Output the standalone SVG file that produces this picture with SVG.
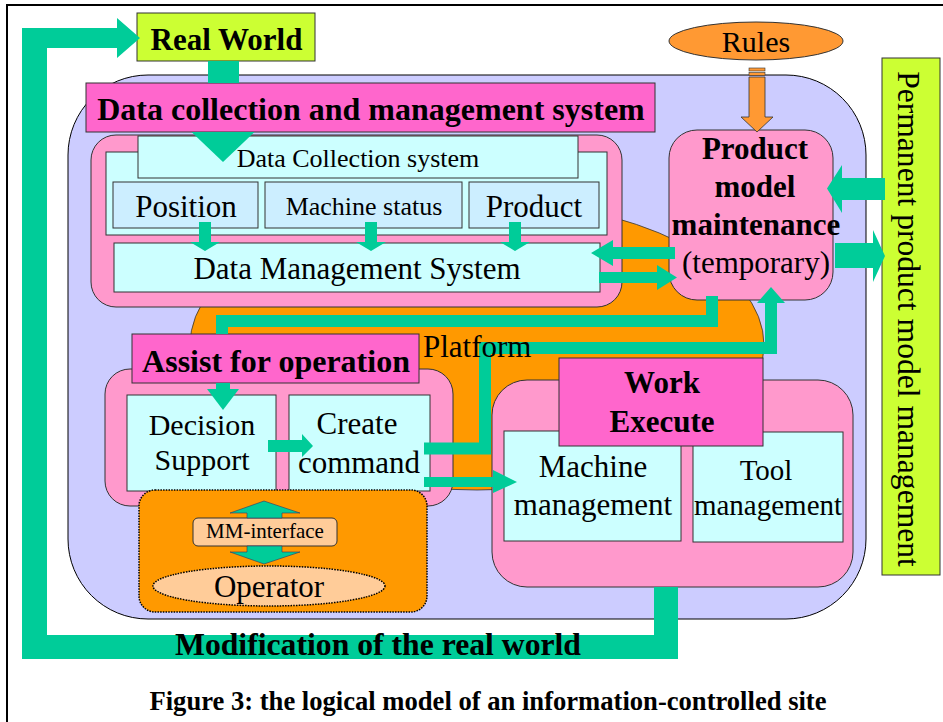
<svg xmlns="http://www.w3.org/2000/svg" width="943" height="722" viewBox="0 0 943 722">
  <style>
    text { font-family: "Liberation Serif", "Times New Roman", serif; fill: #000; }
    .b { font-weight: bold; }
    .m { text-anchor: middle; }
    .ln { stroke: #333; stroke-width: 1; }
    .grn { fill: #00cc99; }
    .gline { fill: none; stroke: #00cc99; stroke-width: 12; stroke-linejoin: miter; stroke-linecap: butt; }
    .pink { fill: #ff99cc; }
    .mag { fill: #ff66cc; }
    .cyan { fill: #ccffff; }
    .blue { fill: #cceeff; }
    .lime { fill: #ccff33; }
    .dots { stroke: #000; stroke-width: 1.5; stroke-dasharray: 1.5 1.2; }
  </style>

  <!-- page frame -->
  <path d="M7,722 V5 H943" fill="none" stroke="#000" stroke-width="2"/>

  <!-- site container -->
  <g id="site">
    <rect x="68" y="75" width="798" height="544" rx="80" fill="#ccccff" stroke="#000" stroke-width="1"/>
  </g>

  <!-- platform -->
  <g id="platform">
    <ellipse cx="477" cy="345" rx="287" ry="145" fill="#ff9900" stroke="#333" stroke-width="0.8"/>
  </g>

  <!-- data collection and management -->
  <g id="data-system">
    <rect class="pink ln" x="91" y="135" width="531" height="172" rx="25"/>
    <rect class="cyan ln" x="106" y="152" width="501" height="83"/>
    <g id="data-collection">
      <rect class="cyan ln" x="138" y="136" width="440" height="42"/>
      <text class="m" x="358" y="167" font-size="26">Data Collection system</text>
    </g>
    <g id="position">
      <rect class="blue ln" x="113" y="182" width="145" height="46"/>
      <text class="m" x="186" y="217" font-size="31">Position</text>
    </g>
    <g id="machine-status">
      <rect class="blue ln" x="265" y="182" width="197" height="46"/>
      <text class="m" x="364" y="215" font-size="26">Machine status</text>
    </g>
    <g id="product">
      <rect class="blue ln" x="469" y="182" width="130" height="46"/>
      <text class="m" x="534" y="217" font-size="31">Product</text>
    </g>
    <g id="data-management">
      <rect class="cyan ln" x="114" y="243" width="486" height="49"/>
      <text class="m" x="357" y="279" font-size="31">Data Management System</text>
    </g>
    <g id="data-header">
      <rect class="mag ln" x="86" y="83" width="569" height="49"/>
      <text class="m b" x="371" y="120" font-size="32">Data collection and management system</text>
    </g>
  </g>

  <g id="real-world">
    <rect class="lime ln" x="137" y="13" width="178" height="48"/>
    <text class="m b" x="226.5" y="50" font-size="31">Real World</text>
  </g>

  <g id="rules">
    <ellipse cx="756" cy="41" rx="87" ry="19" fill="#ff9933" stroke="#333" stroke-width="1"/>
    <text class="m" x="756" y="52" font-size="30">Rules</text>
  </g>

  <g id="product-model">
    <rect class="pink ln" x="669" y="130" width="164" height="170" rx="28"/>
    <text class="m b" x="755" y="159" font-size="31">Product</text>
    <text class="m b" x="755" y="197" font-size="31">model</text>
    <text class="m b" x="756" y="235" font-size="31">maintenance</text>
    <text class="m" x="756" y="273" font-size="31">(temporary)</text>
  </g>

  <g id="permanent-model">
    <rect class="lime ln" x="882" y="58" width="58" height="517"/>
    <text class="m" transform="translate(898,319) rotate(90)" font-size="31.6">Permanent product model management</text>
  </g>

  <g id="assist">
    <rect class="pink ln" x="105" y="369" width="348" height="137" rx="25"/>
    <g id="decision-support">
      <rect class="cyan ln" x="127" y="395" width="149" height="96"/>
      <text class="m" x="202" y="435" font-size="30">Decision</text>
      <text class="m" x="202" y="470" font-size="30">Support</text>
    </g>
    <g id="create-command">
      <rect class="cyan ln" x="289" y="395" width="141" height="96"/>
      <text class="m" x="357" y="434" font-size="31">Create</text>
      <text class="m" x="359" y="473" font-size="31">command</text>
    </g>
    <g id="assist-header">
      <rect class="mag ln" x="132" y="334" width="287" height="49"/>
      <text class="m b" x="276" y="372" font-size="32">Assist for operation</text>
    </g>
  </g>

  <g id="mm-interface">
    <rect x="139" y="490" width="288" height="122" rx="16" fill="#ff9900" class="dots"/>
    <g id="mm-label">
      <rect x="193" y="518" width="144" height="28" rx="5" fill="#ffcc99" stroke="#333" stroke-width="1"/>
      <text class="m" x="265" y="538" font-size="21">MM-interface</text>
    </g>
    <g id="operator">
      <ellipse cx="269" cy="586" rx="116" ry="20" fill="#ffcc99" class="dots"/>
      <text class="m" x="269" y="597" font-size="31">Operator</text>
    </g>
  </g>

  <g id="work">
    <rect class="pink ln" x="492" y="380" width="361" height="207" rx="35"/>
    <g id="machine-management">
      <rect class="cyan ln" x="504" y="431" width="177" height="110"/>
      <text class="m" x="593" y="477" font-size="31">Machine</text>
      <text class="m" x="593" y="515" font-size="31">management</text>
    </g>
    <g id="tool-management">
      <rect class="cyan ln" x="693" y="432" width="150" height="110"/>
      <text class="m" x="766" y="480" font-size="29">Tool</text>
      <text class="m" x="768" y="515" font-size="29">management</text>
    </g>
    <g id="work-header">
      <rect class="mag ln" x="559" y="358" width="204" height="88"/>
      <text class="m b" x="662" y="393" font-size="31">Work</text>
      <text class="m b" x="662" y="432" font-size="31">Execute</text>
    </g>
  </g>

  <!-- connectors -->
  <g id="connectors">
    <!-- feedback loop: work execution back to the real world -->
    <polygon class="grn" points="654,587 678,587 678,659 22,659 22,28 117,28 117,18 140,38 117,58 117,48 47,48 47,635 654,635"/>
    <text class="m b" x="378" y="655" font-size="31.7">Modification of the real world</text>

    <!-- real world into data collection -->
    <rect class="grn" x="208" y="61" width="31" height="22"/>
    <polygon class="grn" points="191.5,132 254.5,132 223,162"/>

    <!-- sensors into data management -->
    <polygon class="grn" points="199,222 211,222 211,242 220,242 205,251 190,242 199,242"/>
    <polygon class="grn" points="365,222 377,222 377,242 386,242 371,251 356,242 365,242"/>
    <polygon class="grn" points="509,222 521,222 521,242 530,242 515,251 500,242 509,242"/>

    <!-- rules into product model -->
    <rect x="749" y="68" width="16" height="3" fill="#ff9933" stroke="#333" stroke-width="0.6"/>
    <rect x="749" y="72.5" width="16" height="3" fill="#ff9933" stroke="#333" stroke-width="0.6"/>
    <polygon points="749,77 765,77 765,117 773,117 757,132 741,117 749,117" fill="#ff9933" stroke="#333" stroke-width="0.8"/>

    <!-- product model <-> data management -->
    <polygon class="grn" points="675,247 613,247 613,240 591,253 613,266 613,259 675,259"/>
    <polygon class="grn" points="599,272 657,272 657,265 677,277.5 657,290 657,283 599,283"/>

    <!-- product model <-> permanent model -->
    <polygon class="grn" points="885,178 842,178 842,165 827,188.5 842,213 842,200 885,200"/>
    <polygon class="grn" points="835,243 873,243 873,230 885,256 873,282 873,268 835,268"/>

    <!-- product model to assist for operation -->
    <path class="gline" d="M712,296 V321 H222 V334"/>
    <rect class="grn" x="216" y="383" width="14" height="7"/>
    <polygon class="grn" points="207,389 239,389 223,410"/>

    <!-- create command back to product model -->
    <path class="gline" d="M424,448.5 H485 V348 H771 V302"/>
    <polygon class="grn" points="757,303 785,303 771,287"/>

    <!-- decision support to create command -->
    <polygon class="grn" points="268,440 302,440 302,434 313,446 302,457 302,452 268,452"/>

    <!-- create command to machine management -->
    <polygon class="grn" points="424,477 493,477 493,470 517,482 493,493 493,487 424,487"/>

    <!-- operator <-> MM-interface <-> decision support -->
    <polygon class="grn" points="247,518 247,513 230,513 264,501 300,513 282,513 282,518" stroke="#336" stroke-width="0.6"/>
    <polygon class="grn" points="247,546 247,552 230,552 264,564 300,552 282,552 282,546" stroke="#336" stroke-width="0.6"/>
  </g>

  <!-- platform label sits above the routed lines -->
  <g id="platform-label">
    <text x="423" y="357" font-size="31">Platform</text>
  </g>

  <text class="m b" x="488" y="710" font-size="26.6">Figure 3: the logical model of an information-controlled site</text>
</svg>
